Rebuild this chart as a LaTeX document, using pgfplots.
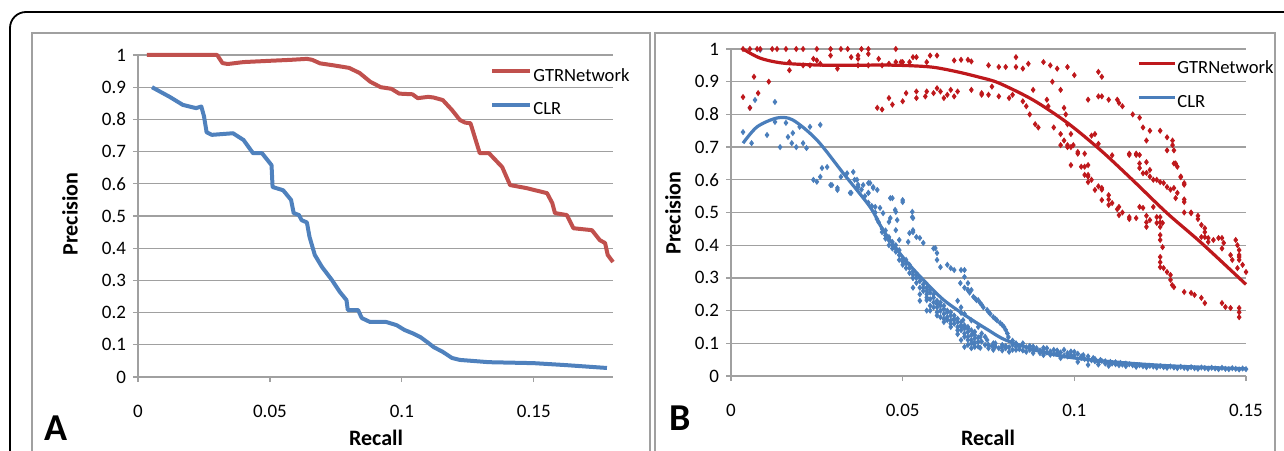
\documentclass[border=0pt]{standalone}
\usepackage{fontspec}
\setmainfont{Carlito}
\usepackage{pgfplots}
\pgfplotsset{compat=1.18}

\definecolor{redA}{RGB}{192,80,77}
\definecolor{blueA}{RGB}{79,129,189}
\definecolor{redB}{RGB}{190,24,28}
\definecolor{blueB}{RGB}{74,126,187}
\definecolor{gridc}{RGB}{160,160,160}

\pgfplotsset{
  excel/.style={
    scale only axis,
    axis lines=left,
    axis line style={-, draw=gridc, line width=0.6pt},
    ymin=0, ymax=1,
    ytick={0,0.1,0.2,0.3,0.4,0.5,0.6,0.7,0.8,0.9,1},
    yticklabels={0,0.1,0.2,0.3,0.4,0.5,0.6,0.7,0.8,0.9,1},
    ymajorgrids,
    grid style={gridc, line width=0.6pt},
    tick align=outside,
    major tick length=2.5pt,
    tick style={gridc, line width=0.6pt},
    ticklabel style={font=\fontsize{9.5}{10}\selectfont},
    /pgf/number format/assume math mode=true,
    xticklabel style={yshift=-8pt},
    clip=false,
    legend cell align=left,
  },
}

\begin{document}
\begin{tikzpicture}
\useasboundingbox (0,0) rectangle (642pt,225pt);
\clip (0,0) rectangle (642pt,225pt);
\draw[black, line width=0.9pt, rounded corners=8pt] (5pt,-20pt) rectangle (660pt,219pt);
\draw[gridc, line width=0.7pt] (16pt,-5pt) rectangle (325pt,208.5pt);
\draw[gridc, line width=0.7pt] (327.5pt,-5pt) rectangle (637.5pt,208.5pt);

% ---------- panel A ----------
\begin{axis}[excel,
  at={(69pt,36.5pt)}, anchor=south west,
  width=237.5pt, height=161pt,
  xmin=0, xmax=0.18,
  xtick={0,0.05,0.1,0.15},
  xticklabels={0,0.05,0.1,0.15},
  legend style={at={(rel axis cs:0.741,0.961)}, anchor=north west,
    draw=none, fill=none, inner sep=0pt, row sep=8pt,
    font=\fontsize{9.3}{10}\selectfont, nodes={inner sep=0.5pt}},
  legend image code/.code={\draw[#1, line width=2pt] (0pt,2.8pt) -- (19pt,2.8pt);},
]
\addplot[redA, line width=2pt, line join=round] coordinates {
(0.0034,1.0) (0.030,1.0) (0.032,0.975) (0.034,0.972) (0.040,0.978)
(0.050,0.982) (0.058,0.985) (0.064,0.988) (0.066,0.985) (0.069,0.974)
(0.074,0.968) (0.080,0.960) (0.084,0.944) (0.088,0.917) (0.092,0.900)
(0.096,0.895) (0.099,0.880) (0.104,0.878) (0.106,0.866) (0.110,0.870)
(0.112,0.868) (0.1155,0.860) (0.119,0.829) (0.122,0.798) (0.124,0.790)
(0.126,0.788) (0.1295,0.695) (0.133,0.695) (0.138,0.652) (0.141,0.596)
(0.147,0.587) (0.155,0.571) (0.157,0.540) (0.158,0.509) (0.1625,0.503)
(0.165,0.462) (0.172,0.456) (0.175,0.425) (0.177,0.416) (0.178,0.379)
(0.180,0.357)
};
\addlegendentry{GTRNetwork}
\addplot[blueA, line width=2pt, line join=round] coordinates {
(0.0053,0.900) (0.012,0.870) (0.017,0.845) (0.022,0.835) (0.024,0.840)
(0.025,0.810) (0.026,0.760) (0.028,0.752) (0.036,0.757) (0.040,0.736)
(0.0436,0.695) (0.047,0.695) (0.0506,0.658) (0.051,0.590) (0.055,0.580)
(0.058,0.550) (0.059,0.509) (0.061,0.503) (0.062,0.487) (0.064,0.480)
(0.065,0.435) (0.067,0.379) (0.0697,0.342) (0.0735,0.301) (0.0765,0.264)
(0.079,0.239) (0.0795,0.208) (0.0834,0.208) (0.0848,0.183) (0.0879,0.171)
(0.094,0.171) (0.098,0.161) (0.101,0.146) (0.104,0.136) (0.107,0.124)
(0.110,0.106) (0.112,0.093) (0.1155,0.078) (0.119,0.059) (0.122,0.053)
(0.133,0.046) (0.150,0.043) (0.162,0.037) (0.1777,0.028)
};
\addlegendentry{CLR}
\end{axis}

% ---------- panel B ----------
\begin{axis}[excel,
  at={(365.5pt,37pt)}, anchor=south west,
  width=257.5pt, height=163.5pt,
  xmin=0, xmax=0.15,
  xtick={0,0.05,0.1,0.15},
  xticklabels={0,0.05,0.1,0.15},
  legend style={at={(rel axis cs:0.788,0.968)}, anchor=north west,
    draw=none, fill=none, inner sep=0pt, row sep=8.5pt,
    font=\fontsize{9.3}{10}\selectfont, nodes={inner sep=0.5pt}},
  legend image code/.code={\draw[#1, line width=1.6pt] (0pt,2.8pt) -- (18pt,2.8pt);},
]
% blue scatter
\addplot[only marks, mark=diamond*, mark size=1.25pt, blueB, forget plot] coordinates {
(0.0035,0.746) (0.0055,0.820) (0.006,0.712) (0.007,0.844) (0.0085,0.997)
(0.0105,0.737) (0.0128,0.838) (0.0128,0.777) (0.0143,0.700) (0.016,0.774)
(0.0166,0.731) (0.0177,0.712) (0.018,0.743) (0.019,0.700) (0.020,0.762)
(0.021,0.712) (0.022,0.697) (0.023,0.762) (0.026,0.768) (0.024,0.600)
(0.025,0.594) (0.026,0.609) (0.0265,0.636) (0.028,0.639) (0.0294,0.584)
(0.031,0.569) (0.032,0.609) (0.0338,0.620) (0.0347,0.560) (0.0356,0.624)
(0.0367,0.600) (0.037,0.578) (0.0385,0.584) (0.040,0.560) (0.0405,0.590)
(0.0414,0.578) (0.0426,0.569) (0.042,0.517) (0.0434,0.514) (0.0443,0.498)
(0.0464,0.544) (0.0464,0.483) (0.0478,0.508) (0.0484,0.477) (0.050,0.538)
(0.0528,0.502) (0.0528,0.486) (0.053,0.446) (0.029,0.584) (0.031,0.575)
(0.035,0.560) (0.037,0.578) (0.040,0.590) (0.0414,0.575) (0.040,0.560)
(0.047,0.544) (0.050,0.532) (0.048,0.502) (0.046,0.471) (0.048,0.446)
(0.053,0.483) (0.053,0.440) (0.054,0.425) (0.055,0.422) (0.056,0.407)
(0.0516,0.410) (0.049,0.416) (0.0595,0.391) (0.060,0.376) (0.060,0.355)
(0.063,0.340) (0.065,0.324) (0.068,0.324) (0.068,0.303) (0.069,0.284)
(0.070,0.263) (0.072,0.232) (0.052,0.437) (0.059,0.390) (0.061,0.333)
(0.064,0.330) (0.067,0.324) (0.069,0.263)
(0.036,0.600) (0.037,0.585) (0.038,0.570) (0.039,0.550) (0.040,0.530)
(0.041,0.520) (0.042,0.500) (0.0425,0.480) (0.043,0.470) (0.044,0.450)
(0.045,0.430) (0.045,0.420) (0.046,0.415) (0.046,0.400) (0.047,0.410)
(0.047,0.390) (0.048,0.400) (0.048,0.380) (0.049,0.370) (0.049,0.355)
(0.050,0.360) (0.050,0.340) (0.051,0.345) (0.051,0.330) (0.052,0.330)
(0.052,0.315) (0.053,0.320) (0.053,0.300) (0.054,0.300) (0.054,0.285)
(0.055,0.290) (0.055,0.270) (0.056,0.280) (0.056,0.260) (0.057,0.270)
(0.057,0.250) (0.058,0.255) (0.058,0.235) (0.059,0.240) (0.059,0.225)
(0.060,0.230) (0.060,0.210) (0.061,0.215) (0.061,0.200) (0.062,0.205)
(0.062,0.190) (0.063,0.195) (0.063,0.180) (0.064,0.185) (0.064,0.170)
(0.065,0.175) (0.065,0.160) (0.066,0.165) (0.066,0.150) (0.067,0.155)
(0.067,0.140) (0.068,0.145) (0.068,0.130) (0.069,0.135) (0.069,0.120)
(0.070,0.125) (0.070,0.110) (0.071,0.115) (0.071,0.100) (0.072,0.105)
(0.072,0.090)
(0.044,0.440) (0.045,0.445) (0.046,0.425) (0.047,0.400) (0.048,0.390)
(0.049,0.385) (0.050,0.350) (0.051,0.355) (0.052,0.340) (0.053,0.310)
(0.054,0.310) (0.055,0.300) (0.056,0.270) (0.057,0.260) (0.058,0.265)
(0.059,0.250) (0.060,0.220) (0.061,0.225) (0.062,0.215) (0.063,0.200)
(0.064,0.195) (0.065,0.185) (0.066,0.175) (0.067,0.165) (0.068,0.155)
(0.069,0.145) (0.070,0.140) (0.071,0.125) (0.072,0.118) (0.058,0.200)
(0.060,0.185) (0.062,0.165) (0.064,0.150) (0.066,0.128) (0.067,0.110)
(0.069,0.095) (0.070,0.085)
(0.053,0.300) (0.053,0.270) (0.055,0.250) (0.055,0.230) (0.057,0.232)
(0.057,0.200) (0.059,0.210) (0.061,0.200) (0.061,0.180) (0.063,0.171)
(0.065,0.171) (0.067,0.150) (0.068,0.120) (0.068,0.089) (0.070,0.100)
(0.071,0.089) (0.057,0.240) (0.058,0.215) (0.060,0.195) (0.062,0.175)
(0.064,0.160) (0.066,0.140) (0.069,0.110)
(0.0668,0.284) (0.068,0.270) (0.069,0.263) (0.0706,0.242) (0.0715,0.232)
(0.0726,0.223) (0.0735,0.210) (0.0746,0.202) (0.0755,0.190) (0.0764,0.180)
(0.0775,0.170) (0.0784,0.162) (0.0795,0.150) (0.080,0.141) (0.0808,0.119)
(0.083,0.100) (0.066,0.230) (0.067,0.210) (0.068,0.190) (0.070,0.170)
(0.072,0.150) (0.071,0.135) (0.073,0.130) (0.074,0.120)
(0.0695,0.255) (0.0712,0.236) (0.073,0.218) (0.075,0.196) (0.077,0.175)
(0.079,0.156) (0.0805,0.130) (0.082,0.108)
(0.067,0.193) (0.0676,0.171) (0.069,0.150) (0.0706,0.131) (0.0726,0.119)
(0.0746,0.110) (0.0764,0.100) (0.079,0.095) (0.082,0.095) (0.085,0.100)
(0.088,0.090) (0.091,0.086) (0.094,0.080) (0.097,0.080) (0.100,0.074)
(0.1026,0.064) (0.1055,0.055) (0.1076,0.049) (0.1105,0.043) (0.1134,0.040)
(0.0706,0.100) (0.0726,0.086) (0.075,0.085) (0.0764,0.080) (0.079,0.089)
(0.081,0.074) (0.083,0.080) (0.086,0.074) (0.088,0.070) (0.091,0.064)
(0.093,0.065) (0.096,0.055) (0.098,0.060) (0.101,0.043) (0.104,0.034)
(0.107,0.035) (0.110,0.031)
(0.075,0.095) (0.077,0.090) (0.080,0.085) (0.084,0.090) (0.087,0.080)
(0.090,0.078) (0.092,0.072) (0.095,0.070) (0.099,0.065) (0.102,0.055)
(0.104,0.050) (0.106,0.045) (0.109,0.038) (0.112,0.036)
(0.073,0.105) (0.074,0.095) (0.076,0.092) (0.077,0.100) (0.078,0.085)
(0.079,0.078) (0.080,0.092) (0.081,0.088) (0.082,0.080) (0.083,0.090)
(0.084,0.082) (0.085,0.078) (0.086,0.088) (0.087,0.092) (0.088,0.078)
(0.089,0.085) (0.090,0.070) (0.091,0.080) (0.092,0.085) (0.093,0.075)
(0.094,0.068) (0.095,0.078) (0.096,0.072) (0.097,0.062) (0.098,0.070)
(0.099,0.075) (0.100,0.062) (0.101,0.068) (0.102,0.060) (0.103,0.052)
(0.104,0.060) (0.105,0.048) (0.106,0.052) (0.107,0.042) (0.108,0.046)
(0.109,0.045) (0.110,0.040) (0.111,0.038) (0.112,0.042) (0.114,0.035)
(0.115,0.038) (0.117,0.033) (0.120,0.030) (0.123,0.029) (0.126,0.027)
(0.129,0.026) (0.132,0.025) (0.135,0.024) (0.138,0.024) (0.141,0.023)
(0.144,0.022) (0.147,0.022)
(0.113,0.033) (0.115,0.030) (0.116,0.036) (0.118,0.028) (0.119,0.033)
(0.121,0.027) (0.122,0.031) (0.124,0.026) (0.125,0.030) (0.127,0.025)
(0.128,0.029) (0.130,0.024) (0.131,0.028) (0.133,0.023) (0.134,0.027)
(0.136,0.022) (0.137,0.026) (0.139,0.022) (0.140,0.025) (0.142,0.021)
(0.143,0.025) (0.145,0.021) (0.146,0.024) (0.148,0.020) (0.149,0.023)
(0.150,0.021)
};
% red scatter
\addplot[only marks, mark=diamond*, mark size=1.25pt, redB, forget plot] coordinates {
(0.0035,1.0) (0.0055,1.0) (0.0076,1.0) (0.0085,1.0) (0.012,1.0)
(0.0134,1.0) (0.016,1.0) (0.019,1.0) (0.021,1.0) (0.025,1.0)
(0.029,1.0) (0.032,1.0) (0.034,1.0) (0.038,1.0) (0.040,1.0) (0.048,1.0)
(0.024,0.970) (0.025,0.965) (0.029,0.980) (0.035,0.975) (0.037,0.970)
(0.037,0.980) (0.040,0.985) (0.043,0.970) (0.048,0.960) (0.050,0.960)
(0.052,0.960) (0.053,0.975) (0.054,0.975) (0.057,0.960) (0.058,0.980)
(0.060,0.980) (0.065,0.965) (0.067,0.967) (0.069,0.967) (0.070,0.962)
(0.075,0.950) (0.078,0.945) (0.080,0.945) (0.083,0.975) (0.083,0.945)
(0.085,0.940) (0.0866,0.955) (0.091,0.960) (0.093,0.950) (0.095,0.940)
(0.098,0.945) (0.100,0.920) (0.107,0.930) (0.108,0.915)
(0.017,0.960) (0.017,0.935) (0.021,0.950) (0.023,0.950) (0.026,0.955)
(0.031,0.940) (0.037,0.950) (0.040,0.950) (0.044,0.950) (0.046,0.955)
(0.0495,0.960)
(0.0035,0.853) (0.0055,0.820) (0.0067,0.915) (0.0079,0.865) (0.011,0.900)
(0.0426,0.820) (0.044,0.815) (0.046,0.850) (0.047,0.830) (0.050,0.840)
(0.051,0.865) (0.054,0.850) (0.054,0.870) (0.0566,0.855) (0.057,0.870)
(0.059,0.865) (0.060,0.880) (0.061,0.870) (0.062,0.850) (0.063,0.860)
(0.064,0.875) (0.066,0.870) (0.065,0.855) (0.070,0.875) (0.073,0.860)
(0.073,0.865) (0.075,0.860) (0.076,0.885) (0.078,0.855) (0.081,0.850)
(0.082,0.860) (0.085,0.840) (0.086,0.825) (0.088,0.875) (0.087,0.800)
(0.0886,0.770) (0.0895,0.760) (0.092,0.845) (0.0924,0.825) (0.0936,0.900)
(0.094,0.760) (0.096,0.875) (0.097,0.820) (0.0975,0.800) (0.098,0.770)
(0.099,0.740) (0.098,0.700) (0.099,0.700) (0.101,0.685) (0.099,0.645)
(0.102,0.640) (0.104,0.645) (0.104,0.615) (0.105,0.735) (0.104,0.845)
(0.107,0.855) (0.108,0.855) (0.110,0.845) (0.1125,0.845) (0.113,0.835)
(0.114,0.825) (0.117,0.800) (0.119,0.790) (0.120,0.760) (0.121,0.720)
(0.122,0.750) (0.125,0.750) (0.127,0.730) (0.127,0.690) (0.129,0.690)
(0.129,0.650) (0.131,0.608) (0.132,0.585) (0.132,0.540) (0.132,0.500)
(0.134,0.500) (0.136,0.480)
(0.106,0.740) (0.107,0.710) (0.111,0.675) (0.116,0.680) (0.118,0.680)
(0.119,0.650) (0.120,0.620) (0.122,0.630) (0.123,0.600) (0.124,0.600)
(0.126,0.590) (0.128,0.570) (0.130,0.560)
(0.096,0.740) (0.097,0.720) (0.101,0.680) (0.103,0.680) (0.103,0.640)
(0.104,0.610) (0.105,0.600) (0.107,0.580) (0.108,0.570) (0.110,0.540)
(0.1125,0.510) (0.114,0.500) (0.116,0.480)
(0.096,0.706) (0.098,0.706) (0.0997,0.706) (0.103,0.615) (0.104,0.593)
(0.106,0.569) (0.108,0.575) (0.110,0.553) (0.108,0.538) (0.110,0.523)
(0.111,0.529) (0.113,0.517) (0.113,0.492) (0.116,0.486) (0.118,0.483)
(0.119,0.517) (0.120,0.514) (0.121,0.490) (0.121,0.470) (0.121,0.456)
(0.122,0.477) (0.123,0.517) (0.124,0.486) (0.124,0.468) (0.125,0.486)
(0.125,0.470) (0.125,0.456) (0.1257,0.468) (0.125,0.431) (0.125,0.416)
(0.1257,0.394) (0.125,0.364) (0.125,0.348) (0.125,0.333) (0.126,0.330)
(0.127,0.318) (0.128,0.309) (0.128,0.294) (0.1285,0.278) (0.129,0.272)
(0.132,0.257) (0.134,0.254) (0.135,0.248) (0.137,0.239) (0.138,0.223)
(0.143,0.223) (0.144,0.211) (0.1455,0.208) (0.148,0.208) (0.148,0.195)
(0.148,0.180)
(0.116,0.676) (0.118,0.676) (0.119,0.676) (0.119,0.636) (0.121,0.654)
(0.121,0.621) (0.122,0.610) (0.125,0.593) (0.127,0.578) (0.129,0.575)
(0.1295,0.544) (0.1286,0.720) (0.1286,0.706) (0.1295,0.650) (0.130,0.640)
(0.131,0.610) (0.132,0.590) (0.132,0.532) (0.134,0.498) (0.136,0.490)
(0.137,0.462) (0.138,0.452) (0.138,0.440) (0.138,0.425) (0.137,0.425)
(0.139,0.422) (0.139,0.410) (0.1405,0.416) (0.142,0.422) (0.143,0.422)
(0.1435,0.407) (0.143,0.390) (0.1455,0.370) (0.147,0.416) (0.1475,0.400)
(0.148,0.385) (0.148,0.370) (0.148,0.364) (0.148,0.355) (0.149,0.340)
(0.150,0.318) (0.146,0.355) (0.1475,0.330)
};
% trend lines
\addplot[redB, line width=1.6pt, smooth] coordinates {
(0.0035,1.0) (0.0085,0.972) (0.015,0.957) (0.025,0.951) (0.035,0.950)
(0.044,0.951) (0.052,0.949) (0.059,0.944) (0.066,0.930) (0.0726,0.913)
(0.078,0.896) (0.088,0.844) (0.098,0.774) (0.1076,0.691) (0.117,0.599)
(0.127,0.498) (0.137,0.407) (0.150,0.280)
};
\addlegendentry{GTRNetwork}
\addplot[blueB, line width=1.6pt, smooth] coordinates {
(0.0035,0.712) (0.0076,0.762) (0.0134,0.789) (0.018,0.783) (0.025,0.722)
(0.0327,0.620) (0.0405,0.517) (0.0443,0.446) (0.050,0.364) (0.056,0.294)
(0.062,0.232) (0.069,0.180) (0.075,0.140) (0.080,0.110) (0.090,0.075)
(0.100,0.055) (0.115,0.040) (0.130,0.030) (0.150,0.022)
};
\addlegendentry{CLR}
\end{axis}

% axis titles and panel letters
\node[rotate=90, font=\fontsize{11}{12}\bfseries] at (35pt,118pt) {Precision};
\node[rotate=90, font=\fontsize{11}{12}\bfseries] at (336.5pt,118.5pt) {Precision};
\node[font=\fontsize{11}{12}\bfseries] at (188pt,6pt) {Recall};
\node[font=\fontsize{11}{12}\bfseries] at (494pt,6pt) {Recall};
\node[font=\fontsize{19}{20}\bfseries] at (28pt,11pt) {A};
\node[font=\fontsize{19}{20}\bfseries] at (340pt,16pt) {B};
\end{tikzpicture}
\end{document}
